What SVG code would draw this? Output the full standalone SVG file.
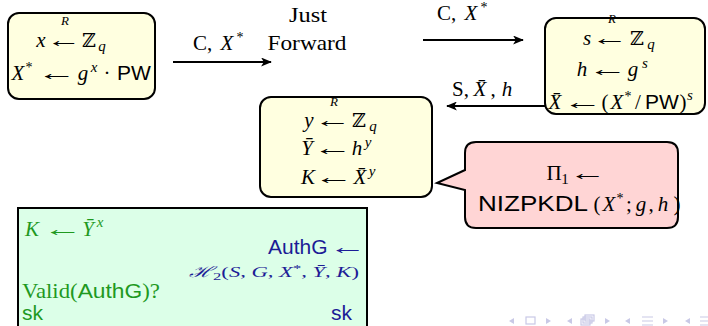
<svg xmlns="http://www.w3.org/2000/svg" width="708" height="326" viewBox="0 0 708 326">
<defs>
<style>
.box{stroke:#000;stroke-width:2}
.yel{fill:#ffffe0}
.mi{font-family:"Liberation Serif",serif;font-style:italic;font-size:21px;text-anchor:middle}
.rm{font-family:"Liberation Serif",serif;font-size:21px}
.sf{font-family:"Liberation Sans",sans-serif;font-size:21px}
.ar{font-family:"Liberation Serif","DejaVu Serif",serif;font-size:22px;text-anchor:middle}
.sm{font-size:14px}
.rr{font-family:"Liberation Serif",serif;font-style:italic;font-size:13px;text-anchor:middle}
.bb{font-family:"DejaVu Serif",serif;font-size:19px;text-anchor:middle}
.c{text-anchor:middle}
.e{text-anchor:end}
.g{fill:#1f991f}
.b{fill:#1c1c96}
.nav{fill:#c9c9e6;stroke:none}
.navl{stroke:#c9c9e6;stroke-width:1.2;fill:none}
.conn{stroke:#000;stroke-width:2;fill:none;marker-end:url(#ah)}
</style>
<marker id="ah" viewBox="0 0 12 10" refX="11" refY="5" markerWidth="11" markerHeight="9" orient="auto" markerUnits="userSpaceOnUse">
<path d="M0,0 L12,5 L0,10 L3,5 Z" fill="#000"/>
</marker>
</defs>
<rect width="708" height="326" fill="#fff"/>

<g id="connectors">
<line class="conn" x1="173" y1="62" x2="271" y2="62"/>
<text x="193" y="50" class="rm">C,</text><text x="227" y="50" class="mi">X</text><text x="240" y="42" class="rm c sm">*</text>
<line class="conn" x1="423" y1="40" x2="523" y2="40"/>
<text x="437" y="20" class="rm">C,</text><text x="471" y="20" class="mi">X</text><text x="484" y="12" class="rm c sm">*</text>
<line class="conn" x1="545" y1="106" x2="447" y2="106"/>
<text x="452" y="96" class="rm">S,</text><text x="480" y="96" class="mi">X̄</text><text x="493" y="96" class="rm c">,</text><text x="507" y="96" class="mi">h</text>
</g>

<g id="client">
<rect class="box yel" x="8" y="13" width="147" height="86" rx="11"/>
<text x="41" y="47" class="mi">x</text>
<text class="ar" transform="translate(64,47) scale(1.6,1)">←</text>
<text x="65" y="25" class="rr">R</text>
<text x="89" y="47" class="bb">ℤ</text>
<text x="102" y="51" class="mi" style="font-size:15px">q</text>
<text x="18" y="80" class="mi">X</text>
<text x="29" y="72" class="rm c sm">*</text>
<text class="ar" transform="translate(57,80) scale(1.8,1)">←</text>
<text x="83" y="80" class="mi">g</text>
<text x="94" y="72" class="mi" style="font-size:15px">x</text>
<text x="107" y="80" class="rm c">·</text>
<text x="117" y="80" class="sf">PW</text>
</g>

<g id="forward">
<text x="308" y="22" class="rm c" textLength="38" lengthAdjust="spacingAndGlyphs">Just</text>
<text x="307" y="50" class="rm c" textLength="79" lengthAdjust="spacingAndGlyphs">Forward</text>
</g>

<g id="server">
<rect class="box yel" x="545" y="18" width="160" height="96" rx="11"/>
<text x="587" y="45" class="mi">s</text>
<text class="ar" transform="translate(610,45) scale(1.7,1)">←</text>
<text x="612" y="23" class="rr">R</text>
<text x="637" y="45" class="bb">ℤ</text>
<text x="651" y="49" class="mi" style="font-size:15px">q</text>
<text x="582" y="76" class="mi">h</text>
<text class="ar" transform="translate(608,76) scale(1.8,1)">←</text>
<text x="633" y="76" class="mi">g</text>
<text x="645" y="68" class="mi" style="font-size:15px">s</text>
<text x="555" y="109" class="mi">X̄</text>
<text class="ar" transform="translate(583,109) scale(1.8,1)">←</text>
<text x="605" y="109" class="rm c">(</text>
<text x="617" y="109" class="mi">X</text>
<text x="628" y="101" class="rm c sm">*</text>
<text x="638" y="109" class="rm c">/</text>
<text x="645" y="109" class="sf">PW</text>
<text x="683" y="109" class="rm c">)</text>
<text x="690" y="100" class="mi" style="font-size:15px">s</text>
</g>

<g id="gateway">
<rect class="box yel" x="260" y="97" width="172" height="100" rx="11"/>
<text x="309" y="127" class="mi">y</text>
<text class="ar" transform="translate(333,127) scale(1.7,1)">←</text>
<text x="334" y="106" class="rr">R</text>
<text x="359" y="127" class="bb">ℤ</text>
<text x="373" y="131" class="mi" style="font-size:15px">q</text>
<text x="307" y="155" class="mi">Ȳ</text>
<text class="ar" transform="translate(333,155) scale(1.8,1)">←</text>
<text x="357" y="155" class="mi">h</text>
<text x="368" y="147" class="mi" style="font-size:15px">y</text>
<text x="308" y="184" class="mi">K</text>
<text class="ar" transform="translate(334,184) scale(1.8,1)">←</text>
<text x="360" y="184" class="mi">X̄</text>
<text x="372" y="176" class="mi" style="font-size:15px">y</text>
</g>

<g id="proof">
<path class="box" fill="#ffd5d5" d="M476,142 H667 Q678,142 678,153 V217 Q678,228 667,228 H476 Q465,228 465,217 V190 L437,183 L465,170 V153 Q465,142 476,142 Z"/>
<text x="554" y="180" class="rm c">Π</text>
<text x="565" y="184" class="rm c" style="font-size:15px">1</text>
<text class="ar" transform="translate(588,180) scale(1.7,1)">←</text>
<text x="478" y="211" class="sf" style="font-size:22px" textLength="110" lengthAdjust="spacingAndGlyphs">NIZPKDL</text>
<text x="597" y="211" class="rm c">(</text>
<text x="609" y="211" class="mi">X</text>
<text x="620" y="203" class="rm c sm">*</text>
<text x="629" y="211" class="rm c">;</text>
<text x="641" y="211" class="mi">g</text>
<text x="651" y="211" class="rm c">,</text>
<text x="663" y="211" class="mi">h</text>
<text x="677" y="211" class="rm c">)</text>
</g>

<g id="auth">
<rect class="box" fill="#dcffe8" x="18" y="208" width="349" height="130"/>
<text x="32" y="236" class="mi g">K</text>
<text class="ar g" transform="translate(63,236) scale(1.8,1)">←</text>
<text x="88" y="236" class="mi g">Ȳ</text>
<text x="100" y="227" class="mi g" style="font-size:15px">x</text>
<text x="268" y="254" class="sf b">AuthG</text>
<text class="ar b" transform="translate(348,254) scale(1.7,1)">←</text>
<text x="359" y="277" class="rm e b" style="font-size:15px" textLength="170" lengthAdjust="spacingAndGlyphs"><tspan font-family="DejaVu Serif" font-style="italic">ℋ</tspan><tspan dy="3" font-size="11">2</tspan><tspan dy="-3">(</tspan><tspan font-style="italic">S</tspan>, <tspan font-style="italic">G</tspan>, <tspan font-style="italic">X</tspan><tspan dy="-5" font-size="11">*</tspan><tspan dy="5">, </tspan><tspan font-style="italic">Ȳ</tspan>, <tspan font-style="italic">K</tspan>)</text>
<text x="22" y="298" class="rm g" textLength="138" lengthAdjust="spacingAndGlyphs">Valid(<tspan font-family="Liberation Sans, sans-serif">AuthG</tspan>)?</text>
<text x="22" y="320" class="sf g">sk</text>
<text x="352" y="320" class="sf e b">sk</text>
</g>

<g id="navigation">
<path class="nav" d="M509,321 L514,318 L514,324 Z"/>
<rect class="navl" x="526" y="317" width="9" height="7"/>
<path class="nav" d="M551,321 L546,318 L546,324 Z"/>
<path class="nav" d="M567,321 L572,318 L572,324 Z"/>
<rect class="navl" x="581" y="319" width="9" height="6"/>
<rect class="navl" x="583" y="317" width="9" height="6"/>
<rect class="navl" x="585" y="315" width="9" height="6"/>
<path class="nav" d="M610,321 L605,318 L605,324 Z"/>
<path class="nav" d="M625,321 L630,318 L630,324 Z"/>
<path class="navl" d="M642,317 H653 M642,321 H653 M642,325 H653"/>
<path class="nav" d="M668,321 L663,318 L663,324 Z"/>
<path class="nav" d="M685,321 L690,318 L690,324 Z"/>
<path class="navl" d="M700,317 H708 M700,321 H708 M700,325 H708"/>
</g>
</svg>
